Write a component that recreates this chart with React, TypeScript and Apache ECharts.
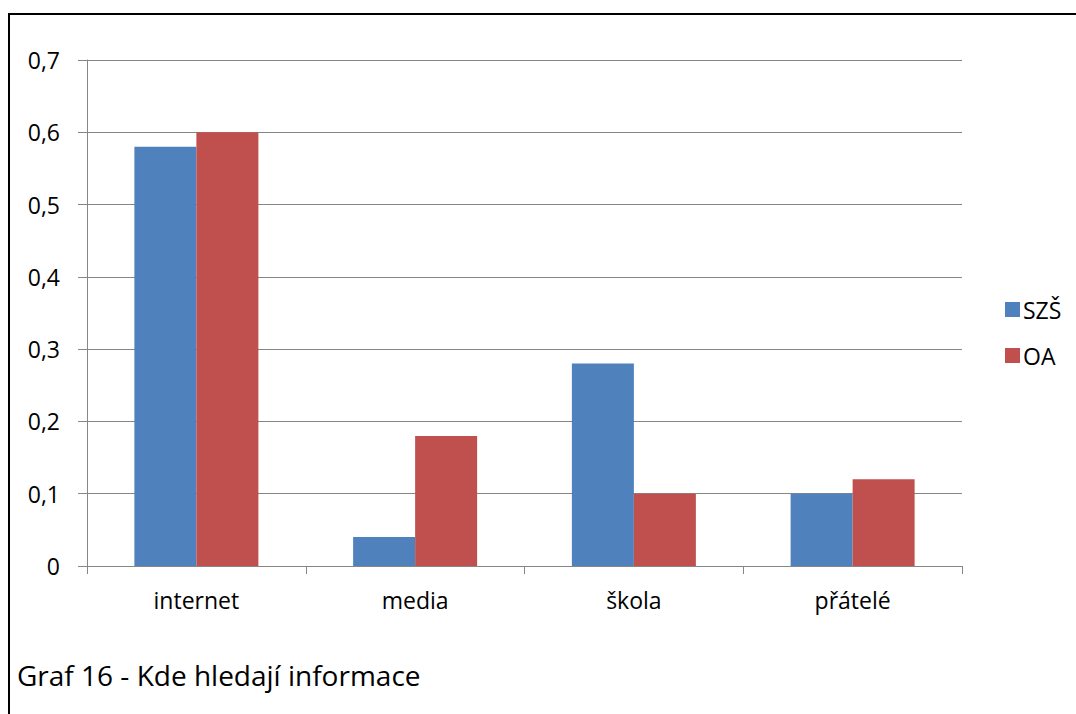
import React, { useEffect, useRef } from "react";
import * as echarts from "echarts";

const categories = ["internet", "media", "škola", "přátelé"];
const seriesNames = ["SZŠ", "OA"];
const szsValues = [0.58, 0.04, 0.28, 0.1];
const oaValues = [0.6, 0.18, 0.1, 0.12];
const caption = "Graf 16 - Kde hledají informace";

const FONT = "'Open Sans', 'Noto Sans', sans-serif";
const AXIS_GRAY = "#868686";
const LABEL_SIZE = 23;

export default function App() {
  const ref = useRef<HTMLDivElement>(null);

  useEffect(() => {
    document.body.style.margin = "0";
    const chart = echarts.init(ref.current!, null, { renderer: "svg" });
    chart.setOption({
      animation: false,
      backgroundColor: "#ffffff",
      textStyle: { fontFamily: FONT, color: "#000" },
      grid: { left: 87, right: 114, top: 60, bottom: 148 },
      legend: {
        orient: "vertical",
        left: 1000,
        top: 293,
        itemWidth: 15,
        itemHeight: 15,
        itemGap: 23,
        icon: "rect",
        textStyle: { fontFamily: FONT, fontSize: LABEL_SIZE, color: "#000", padding: [0, 0, 0, -2] },
        data: seriesNames,
      },
      xAxis: {
        type: "category",
        data: categories,
        axisLine: { lineStyle: { color: AXIS_GRAY, width: 1 } },
        axisTick: { show: true, length: 8, lineStyle: { color: AXIS_GRAY } },
        axisLabel: { fontFamily: FONT, fontSize: LABEL_SIZE, color: "#000", margin: 22 },
      },
      yAxis: {
        type: "value",
        min: 0,
        max: 0.7,
        interval: 0.1,
        axisLine: { show: true, lineStyle: { color: AXIS_GRAY, width: 1 } },
        axisTick: { show: true, length: 9, lineStyle: { color: AXIS_GRAY } },
        splitLine: { show: true, lineStyle: { color: AXIS_GRAY, width: 1 } },
        axisLabel: {
          fontFamily: FONT,
          fontSize: LABEL_SIZE,
          color: "#000",
          margin: 27,
          formatter: (v: number) => (v === 0 ? "0" : v.toFixed(1).replace(".", ",")),
        },
      },
      series: [
        {
          name: seriesNames[0],
          type: "bar",
          data: szsValues,
          barWidth: 62,
          barGap: "0%",
          itemStyle: { color: "#4F81BD" },
        },
        {
          name: seriesNames[1],
          type: "bar",
          data: oaValues,
          barWidth: 62,
          barGap: "0%",
          itemStyle: { color: "#C0504D" },
        },
      ],
      graphic: [
        {
          type: "rect",
          shape: { x: 9, y: 14, width: 1200, height: 1000 },
          style: { fill: "none", stroke: "#000", lineWidth: 2 },
          silent: true,
        },
        {
          type: "text",
          left: 17,
          top: 661,
          style: { text: caption, font: `28px ${FONT}`, fill: "#000" },
        },
      ],
    });
    return () => chart.dispose();
  }, []);

  return <div ref={ref} style={{ width: 1076, height: 714 }} />;
}
